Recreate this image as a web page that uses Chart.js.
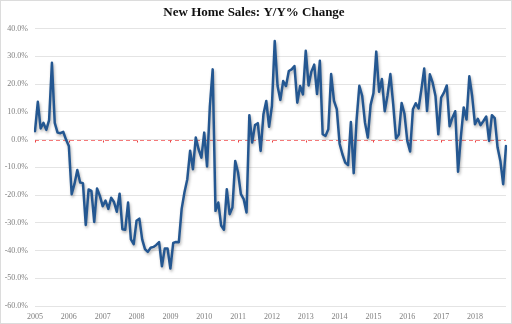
<!DOCTYPE html>
<html>
<head>
<meta charset="utf-8">
<script src="https://cdn.jsdelivr.net/npm/chart.js@4/dist/chart.umd.min.js"></script>
<style>
  html, body { margin: 0; padding: 0; background: #fff; }
  #frame { position: absolute; left: 0; top: 0; width: 512px; height: 324px; box-sizing: border-box; border: 1px solid #dcdcdc; }
  #wrap { position: absolute; left: 1px; top: 1px; width: 510px; height: 322px; }
</style>
</head>
<body>
<div id="frame"><div id="wrap"><canvas id="myChart"></canvas></div></div>
<script>
// annees affichees sur l'axe X (une par janvier)
const years = ['2005', '2006', '2007', '2008', '2009', '2010', '2011',
  '2012', '2013', '2014', '2015', '2016', '2017', '2018'];

// variation annuelle des ventes de maisons neuves, en %, mensuelle depuis janv. 2005
const yoy2005 = [3.0, 13.6, 4.0, 6.0, 3.5, 7.0, 27.7, 6.0, 2.5, 2.3, 2.8, 0.0];
const yoy2006 = [-2.3, -19.7, -16.0, -11.0, -15.5, -15.7, -30.8, -18.0, -18.5, -29.7, -17.6, -20.3];
const yoy2007 = [-24.0, -22.0, -25.0, -21.0, -22.5, -26.0, -19.5, -32.3, -32.5, -22.7, -36.0, -37.7];
const yoy2008 = [-29.3, -28.5, -36.0, -39.5, -40.5, -39.0, -38.7, -38.0, -37.0, -45.7, -39.3, -39.3];
const yoy2009 = [-46.5, -37.3, -36.9, -37.0, -25.0, -19.0, -14.3, -4.0, -10.7, 0.7, -3.5, -6.5];
const yoy2010 = [2.5, -9.7, 12.0, 25.3, -25.7, -22.7, -31.0, -32.5, -17.9, -26.9, -24.5, -7.7];
const yoy2011 = [-11.9, -19.7, -21.5, -26.3, 8.8, -1.1, 5.2, 5.9, -4.1, 9.1, 13.9, 4.6];
const yoy2012 = [12.1, 35.5, 19.3, 14.3, 21.1, 19.3, 24.7, 25.3, 26.5, 13.3, 19.3, 16.3];
const yoy2013 = [32.0, 19.5, 24.5, 27.0, 16.4, 28.4, 1.9, 1.3, 3.7, 23.6, 14.0, 11.0];
const yoy2014 = [-1.5, -5.3, -8.3, -9.2, 6.3, -12.1, 6.7, 19.4, 15.8, 6.1, 0.7, 12.5];
const yoy2015 = [16.7, 31.7, 17.2, 21.8, 10.2, 16.0, 23.6, 12.8, 0.4, 1.8, 13.2, 9.3];
const yoy2016 = [-0.5, -4.3, 10.9, 13.1, 11.2, 18.1, 25.6, 10.3, 23.5, 20.5, 15.7, 1.9];
const yoy2017 = [15.1, 16.9, 19.5, 4.8, 7.9, 10.2, -11.6, 1.0, 11.6, 7.2, 22.8, 15.7];
const yoy2018 = [5.5, 7.5, 5.2, 6.7, 8.3, -0.5, 8.8, 7.7, -2.8, -7.7, -16.1, -2.3];

const yoyChange = [].concat(yoy2005, yoy2006, yoy2007, yoy2008, yoy2009, yoy2010, yoy2011,
  yoy2012, yoy2013, yoy2014, yoy2015, yoy2016, yoy2017, yoy2018);

// etiquettes mensuelles : l'annee seulement en janvier
const monthLabels = yoyChange.map((v, i) => (i % 12 === 0 ? years[i / 12] : ''));

const yMin = -60;
const yMax = 40;
const yStep = 10;

// ligne pointillee rouge a 0 et ombre de la serie
const zeroLinePlugin = {
  id: 'zeroLine',
  beforeDatasetsDraw(chart) {
    const { ctx, chartArea, scales } = chart;
    const y0 = Math.round(scales.y.getPixelForValue(0)) + 0.5;
    ctx.save();
    ctx.strokeStyle = '#f47a7a';
    ctx.lineWidth = 1;
    ctx.setLineDash([4, 3]);
    ctx.beginPath();
    ctx.moveTo(chartArea.left, y0);
    ctx.lineTo(chartArea.right, y0);
    ctx.stroke();
    ctx.setLineDash([]);
    ctx.strokeStyle = '#e84040';
    monthLabels.forEach((lab, i) => {
      if (!lab) return;
      const x = Math.round(scales.x.getPixelForValue(i)) + 0.5;
      ctx.beginPath();
      ctx.moveTo(x, y0);
      ctx.lineTo(x, y0 + 2);
      ctx.stroke();
    });
    ctx.restore();
    ctx.save();
    ctx.shadowColor = 'rgba(0, 0, 0, 0.3)';
    ctx.shadowBlur = 3;
    ctx.shadowOffsetX = 1;
    ctx.shadowOffsetY = 2;
  },
  afterDatasetsDraw(chart) {
    chart.ctx.restore();
  }
};

const ctx = document.getElementById('myChart').getContext('2d');
new Chart(ctx, {
  type: 'line',
  data: {
    labels: monthLabels,
    datasets: [{
      label: 'Y/Y% Change',
      data: yoyChange,
      borderColor: '#245791',
      borderWidth: 2.5,
      borderJoinStyle: 'round',
      borderCapStyle: 'round',
      pointRadius: 0,
      tension: 0,
      fill: false
    }]
  },
  options: {
    responsive: true,
    maintainAspectRatio: false,
    animation: false,
    layout: { padding: { left: 0, right: 6, top: 0, bottom: 0 } },
    plugins: {
      legend: { display: false },
      tooltip: { enabled: false },
      title: {
        display: true,
        text: 'New Home Sales: Y/Y% Change',
        color: '#111',
        font: { family: 'Liberation Serif', size: 13, weight: 'bold' },
        padding: { top: 3, bottom: 8 }
      }
    },
    scales: {
      x: {
        type: 'category',
        offset: false,
        grid: { display: false, drawTicks: false },
        border: { display: false },
        ticks: {
          autoSkip: false,
          maxRotation: 0,
          padding: 6,
          color: '#7f7f7f',
          font: { family: 'Liberation Serif', size: 8 },
          callback: function (value, index) { return monthLabels[index]; }
        },
        afterFit: (s) => { s.height = 18; }
      },
      y: {
        min: yMin,
        max: yMax,
        grid: { color: '#e4e4e4', lineWidth: 1, drawTicks: false },
        border: { display: false },
        ticks: {
          stepSize: yStep,
          padding: 7,
          color: '#7f7f7f',
          font: { family: 'Liberation Serif', size: 8 },
          callback: (v) => v.toFixed(1) + '%'
        },
        afterFit: (s) => { s.width = 33; }
      }
    }
  },
  plugins: [zeroLinePlugin]
});
</script>
</body>
</html>
